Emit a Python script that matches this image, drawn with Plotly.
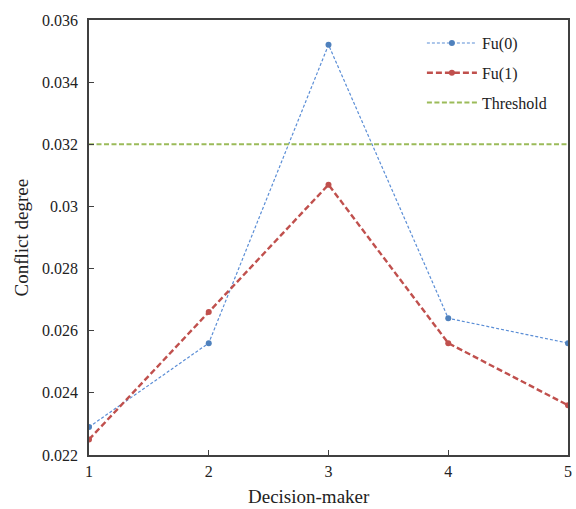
import plotly.graph_objects as go

decision_makers = [1, 2, 3, 4, 5]
fu0 = [0.0229, 0.0256, 0.0352, 0.0264, 0.0256]
fu1 = [0.0225, 0.0266, 0.0307, 0.0256, 0.0236]
threshold = 0.032
y_tick_vals = [0.022, 0.024, 0.026, 0.028, 0.030, 0.032, 0.034, 0.036]
y_tick_text = ["0.022", "0.024", "0.026", "0.028", "0.03", "0.032", "0.034", "0.036"]

font_family = "Liberation Serif, Times New Roman, serif"

fig = go.Figure()
fig.add_trace(go.Scatter(
    x=decision_makers, y=fu0, name="Fu(0)", mode="lines+markers", legendgroup="a",
    line=dict(color="#5B8ED6", width=1.2, dash="3px,2px"),
    marker=dict(color="#4F81BD", size=6),
))
fig.add_trace(go.Scatter(
    x=decision_makers, y=fu1, name="Fu(1)", mode="lines+markers", legendgroup="b",
    line=dict(color="#C0504D", width=2.4, dash="6px,3px"),
    marker=dict(color="#C0504D", size=6),
))
fig.add_trace(go.Scatter(
    x=[decision_makers[0], decision_makers[-1]], y=[threshold, threshold],
    name="Threshold", mode="lines", legendgroup="c",
    line=dict(color="#9BBB59", width=2, dash="5px,2.5px"),
))

fig.update_layout(
    width=576, height=509,
    margin=dict(l=89, r=8, t=20, b=54, autoexpand=False),
    paper_bgcolor="white", plot_bgcolor="white",
    font=dict(family=font_family, size=16, color="#222222"),
    showlegend=True,
    legend=dict(x=0.695, y=0.986, xanchor="left", yanchor="top",
                bgcolor="rgba(0,0,0,0)", font=dict(size=16, family=font_family),
                tracegroupgap=6, itemwidth=50),
    annotations=[
        dict(text="Decision-maker", xref="paper", yref="paper", x=0.459, y=-0.095,
             xanchor="center", yanchor="middle", showarrow=False,
             font=dict(size=19, family=font_family, color="#222222")),
        dict(text="Conflict degree", xref="paper", yref="paper", x=-0.140, y=0.5,
             xanchor="center", yanchor="middle", showarrow=False, textangle=-90,
             font=dict(size=19, family=font_family, color="#222222")),
    ],
)
fig.update_xaxes(
    range=[1, 5], tickvals=decision_makers, ticks="inside", ticklen=5,
    tickcolor="#404040", showline=True, linecolor="#404040", linewidth=1.5,
    mirror=True, showgrid=False, zeroline=False, automargin=False,
    tickfont=dict(size=16, family=font_family), ticklabelstandoff=1,
)
fig.update_yaxes(
    range=[0.022, 0.036], tickvals=y_tick_vals, ticktext=y_tick_text,
    ticks="inside", ticklen=5, tickcolor="#404040",
    showline=True, linecolor="#404040", linewidth=1.5, mirror=True,
    showgrid=False, zeroline=False, automargin=False,
    tickfont=dict(size=16, family=font_family), ticklabelstandoff=6,
)

fig.write_html(
    "out.html",
    config={"displayModeBar": False},
    post_script="document.body.style.margin='0';document.documentElement.style.overflow='hidden';document.body.style.overflow='hidden';",
)
